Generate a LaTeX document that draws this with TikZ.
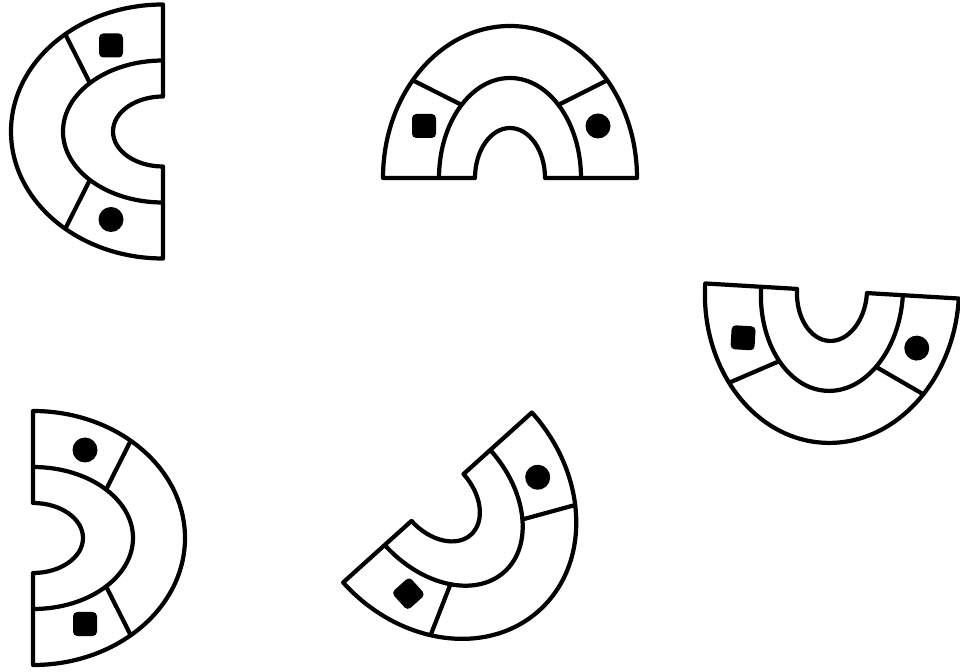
\documentclass[tikz,border=0pt]{standalone}
\usepackage{tikz}

\tikzset{archline/.style={line width=3pt, line join=round}}

% one horseshoe piece: centre x, centre y, rotation, mirror (1 or -1)
\newcommand{\drawarch}[4]{%
  \begin{scope}[shift={(#1,#2)}, rotate=#3, xscale=#4]
    \draw[archline] (127,0) arc[start angle=0, end angle=180, x radius=127, y radius=152]
      -- (-35,0) arc[start angle=180, end angle=0, x radius=35, y radius=50] -- cycle;
    \draw[archline] (71,0) arc[start angle=0, end angle=180, x radius=71, y radius=100];
    \draw[archline] ({71*cos(47)},{100*sin(47)}) -- ({127*cos(40)},{152*sin(40)});
    \draw[archline] ({71*cos(133)},{100*sin(133)}) -- ({127*cos(140)},{152*sin(140)});
    \fill[rounded corners=3] (-98,40) -- (-74,40) -- (-74,64) -- (-98,64) -- cycle;
    \fill (88,52) circle[radius=12.5];
  \end{scope}}

\begin{document}
\begin{tikzpicture}[x=0.025cm, y=0.025cm]
  \useasboundingbox (0,0) rectangle (960,671);
  % top row
  \drawarch{163}{539.5}{90}{-1}
  \drawarch{510}{493}{0}{1}
  % right
  \drawarch{832}{380}{176.6}{-1}
  % bottom row
  \drawarch{33}{133}{-90}{-1}
  \drawarch{437.5}{173.5}{-138}{-1}
\end{tikzpicture}
\end{document}
